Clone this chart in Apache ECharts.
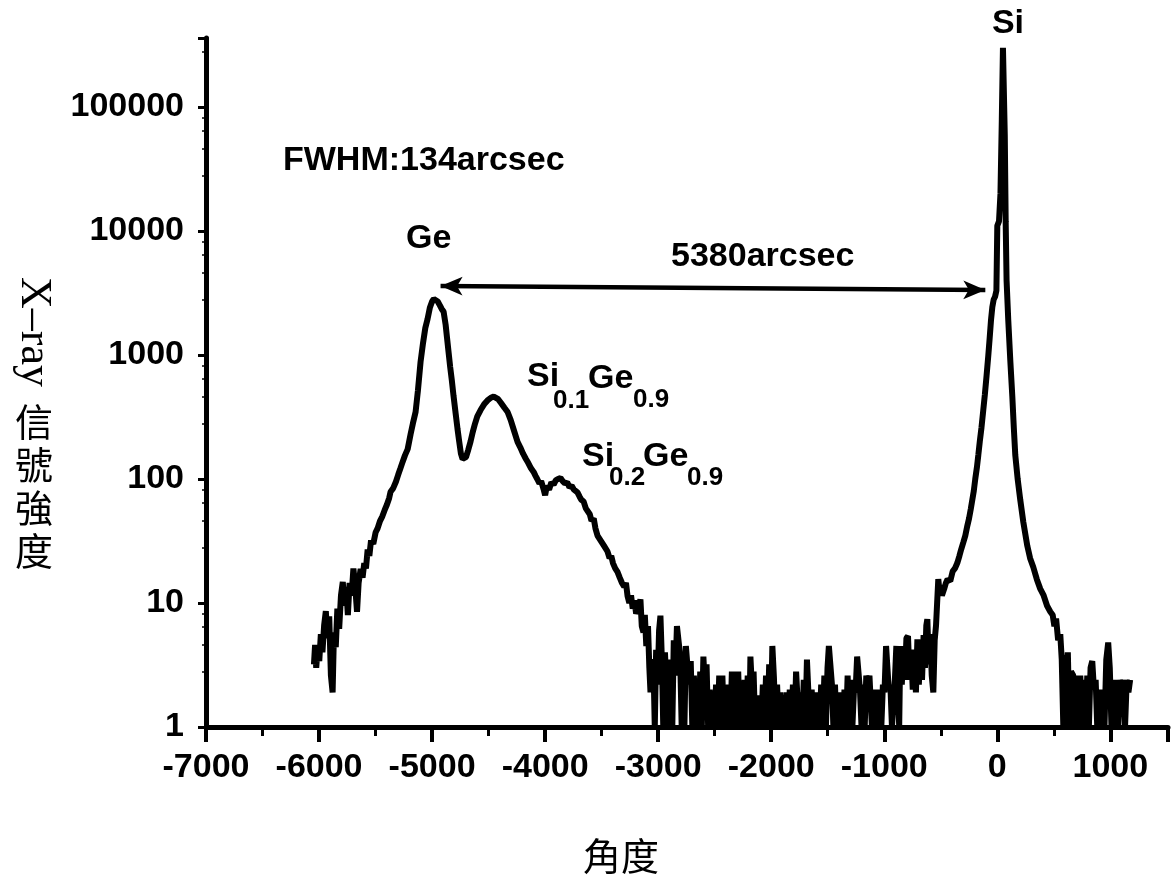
<!DOCTYPE html>
<html>
<head>
<meta charset="utf-8">
<script src="https://cdn.jsdelivr.net/npm/echarts@6/dist/echarts.min.js"></script>
<style>
html,body{margin:0;padding:0;background:#fff}
#chart{width:1171px;height:883px}
</style>
</head>
<body>
<div id="chart"></div>
<script>
// angle (arcsec) and X-ray counts
var angle = [
  -6045,-6035,-6025,-6012,-5998,-5984,-5970,-5955,-5940,-5925,-5910,-5895,-5880,-5868,-5852,-5838,-5822,-5806,-5790,-5775,
  -5760,-5745,-5730,-5712,-5696,-5680,-5664,-5650,-5632,-5615,-5600,-5585,-5570,-5555,-5540,-5520,-5500,-5482,-5460,-5440,
  -5420,-5400,-5380,-5367,-5345,-5320,-5300,-5280,-5260,-5240,-5216,-5190,-5170,-5146,-5125,-5102,-5080,-5060,-5040,-5020,
  -5000,-4985,-4969,-4950,-4930,-4915,-4898,-4880,-4868,-4854,-4840,-4825,-4810,-4792,-4775,-4760,-4745,-4730,-4715,-4700,
  -4680,-4660,-4640,-4620,-4600,-4571,-4540,-4510,-4480,-4455,-4438,-4415,-4390,-4360,-4332,-4305,-4275,-4244,-4220,-4195,
  -4170,-4150,-4125,-4102,-4085,-4070,-4050,-4035,-4014,-4000,-3985,-3965,-3945,-3925,-3905,-3885,-3864,-3845,-3825,-3805,
  -3785,-3765,-3745,-3714,-3695,-3680,-3660,-3640,-3625,-3605,-3590,-3570,-3555,-3537,-3520,-3500,-3480,-3465,-3448,-3430,
  -3415,-3400,-3380,-3360,-3340,-3320,-3300,-3285,-3271,-3255,-3240,-3225,-3210,-3195,-3183,-3170,-3157,-3145,-3130,-3118,
  -3105,-3090,-3078,-3068,-3055,-3042,-3030,-3018,-3005,-2992,-2980,-2966,-2955,-2940,-2926,-2912,-2900,-2888,-2875,-2862,
  -2848,-2834,-2820,-2806,-2792,-2780,-2768,-2755,-2741,-2728,-2712,-2698,-2684,-2670,-2656,-2642,-2628,-2614,-2600,-2586,
  -2572,-2558,-2544,-2530,-2516,-2502,-2488,-2474,-2460,-2446,-2432,-2418,-2404,-2390,-2376,-2362,-2348,-2334,-2320,-2306,
  -2292,-2278,-2264,-2250,-2236,-2222,-2208,-2194,-2184,-2170,-2156,-2142,-2128,-2116,-2102,-2088,-2074,-2060,-2046,-2032,
  -2018,-2004,-1990,-1976,-1962,-1948,-1934,-1920,-1906,-1892,-1878,-1864,-1850,-1836,-1822,-1808,-1794,-1780,-1768,-1754,
  -1740,-1726,-1712,-1698,-1684,-1670,-1656,-1642,-1628,-1614,-1600,-1586,-1572,-1558,-1544,-1530,-1516,-1502,-1490,-1477,
  -1463,-1450,-1436,-1422,-1408,-1394,-1380,-1366,-1352,-1338,-1324,-1310,-1296,-1282,-1268,-1254,-1240,-1229,-1215,-1201,
  -1187,-1173,-1159,-1145,-1131,-1123,-1109,-1095,-1081,-1067,-1053,-1040,-1026,-1012,-998,-984,-973,-960,-946,-932,
  -920,-906,-893,-880,-868,-858,-845,-832,-818,-804,-790,-776,-762,-748,-734,-720,-707,-694,-680,-666,
  -652,-640,-628,-619,-606,-594,-580,-566,-554,-542,-530,-522,-510,-504,-490,-470,-455,-440,-416,-395,
  -375,-354,-335,-320,-300,-283,-265,-250,-235,-221,-208,-195,-180,-168,-155,-140,-124,-110,-95,-80,
  -68,-56,-44,-32,-20,-8,0,15,28,40,50,58,66,74,82,97,115,133,146,159,
  180,203,230,265,290,318,350,380,410,440,469,490,505,520,538,557,570,584,596,610,
  624,638,652,672,688,702,718,734,750,765,780,796,810,825,840,855,870,884,900,915,
  930,948,964,981,995,1010,1025,1040,1055,1070,1085,1100,1115,1130,1145,1160,1175
];
var intensity = [
  3.2,4.6,3.0,4.4,3.4,5.6,4.0,6.6,8.6,5.2,7.8,2.6,1.9,5.8,4.4,9.0,6.2,11.5,14.8,9.5,
  13.5,8.0,14.5,11.5,19,13.5,8.5,14.5,18.8,16,21,19,27,24,32,30,37,40,46,50,
  56,62,70,79,84,95,108,122,138,155,174,230,280,347,520,880,1250,1650,1950,2400,
  2700,2830,2850,2700,2500,2350,2230,1750,1380,1050,800,620,465,340,253,200,160,145,142,150,
  172,200,240,280,320,360,400,430,452,462,460,440,410,375,347,300,245,199,180,160,
  145,135,122,114,106,100,92,96,83,74,88,82,94,90,98,100,102,96,92,94,
  86,88,82,78,72,68,66,58,57,52,46,48,40,35,36,31,29,30,26,23,
  24,21,19,17.8,16,14.5,13.5,14.5,11.4,10,11.5,9,10.5,8.2,8.5,9.5,10.7,6.5,5.8,8,
  4.5,6.5,3.0,1.9,3.5,3.3,1,4.2,2.2,6.0,7.9,3.2,1,4.0,2.0,1,1,3.5,1,5.0,
  2.6,6.5,6.5,3.8,1,3.0,1,4.5,4.5,2.2,3.4,1,2.6,1,2.2,1,2.8,1,3.7,2.0,
  3.2,1,2.0,1,1.8,1,2.2,1,2.6,1,2.6,1,1.8,1,2.2,1,2.8,1,2.8,1,
  2.8,1,2.0,1,2.4,1,2.6,1,3.7,2.0,2.8,1,1.8,1,1.8,1,2.2,1,2.6,1,
  3.2,1,4.5,2.5,1,2.2,1,1.9,1,1.8,1,1.9,1,2.0,1,2.2,1,2.8,2.8,1,
  1.9,1,2.4,1,3.5,1.8,1,2.0,1,1.9,1,1.9,1,2.2,1,2.6,1,3.0,4.5,4.5,
  2.2,1,2.2,1,1.9,1,1.9,1,2.0,1,2.6,1,2.4,1,2.0,1.9,3.7,3.7,2.0,1,
  2.2,1,2.6,1.9,2.6,2.6,1,2.0,1,2.0,1,1.9,1,2.2,1.9,4.5,4.5,2.0,2.2,1,
  1,2.4,4.5,2.2,1,4.5,2.2,4.0,2.4,5.2,5.4,2.4,4.2,2.0,3.8,1.9,5.1,2.2,4.5,2.4,
  5.5,3.0,6.6,7.4,3.2,5.6,2.6,1.9,5.0,6.6,6.6,15.6,12,14,11.5,13,14.5,15.5,15,18,
  19,21,24,27,31,35,42,48,57,68,80,100,125,156,200,260,360,480,680,980,
  1350,1900,2440,2800,2950,3300,11000,12000,20000,80000,300000,300000,60000,12000,4000,1900,900,460,260,156,
  100,68,45,29,23,19.5,15.5,13,11.5,9.5,8.5,8,6.5,7.5,5,5.6,3.5,1,3.8,2.5,
  4,1,2.8,2.6,1,2.6,1,2.6,1,2.4,1,2.6,1,3.0,3.4,2.0,2.4,1,2.0,1,
  2.0,1,3.5,4.8,3.0,1,2.4,1,2.4,1,2.4,1.8,2.4,1,2.4,1.9,2.4
];
// the 5380 arcsec double arrow between the Ge and Si peaks
var arrowFrom = [-4925, 3600];
var arrowTo = [-106, 3345];

var chart = echarts.init(document.getElementById('chart'));
var sans = 'Liberation Sans, Arial, sans-serif';

function label(text, x, y, size, align) {
	return {
		type: 'text', x: x, y: y, silent: true,
		style: {
			text: text, fill: '#000', fontSize: size, fontWeight: 'bold', fontFamily: sans,
			textAlign: align || 'left', textVerticalAlign: 'middle'
		}
	};
}

chart.setOption({
	animation: false,
	backgroundColor: '#fff',
	grid: {left: 206, right: 3, top: 38, bottom: 156},
	xAxis: {
		type: 'value', min: -7000, max: 1510, interval: 1000,
		axisLine: {onZero: false, lineStyle: {color: '#000', width: 5}},
		axisTick: {length: 15, lineStyle: {color: '#000', width: 4}},
		minorTick: {show: true, splitNumber: 2, length: 9, lineStyle: {color: '#000', width: 3}},
		splitLine: {show: false},
		axisLabel: {
			margin: 24, color: '#000', fontSize: 34, fontWeight: 'bold', fontFamily: sans,
			formatter: function (v) { return v % 1000 === 0 ? String(v) : ''; }
		}
	},
	yAxis: {
		type: 'log', logBase: 10, min: 1, max: 360000,
		axisLine: {show: true, onZero: false, lineStyle: {color: '#000', width: 5}},
		axisTick: {show: true, length: 8, lineStyle: {color: '#000', width: 3}},
		minorTick: {show: true, splitNumber: 5, length: 4, lineStyle: {color: '#000', width: 1.5}},
		splitLine: {show: false},
		axisLabel: {
			margin: 22, color: '#000', fontSize: 34, fontWeight: 'bold', fontFamily: sans,
			formatter: function (v) {
				var l = Math.log10(v);
				return Math.abs(l - Math.round(l)) < 1e-6 ? String(Math.round(v)) : '';
			}
		}
	},
	series: [{
		type: 'line',
		data: angle.map(function (a, i) { return [a, intensity[i]]; }),
		symbol: 'none',
		clip: true,
		lineStyle: {color: '#000', width: 6},
		markLine: {
			silent: true,
			symbol: ['arrow', 'arrow'],
			symbolSize: [14, 22],
			label: {show: false},
			lineStyle: {color: '#000', width: 4.5, type: 'solid'},
			data: [[{coord: arrowFrom}, {coord: arrowTo}]]
		}
	}],
	graphic: [
		label('FWHM:134arcsec', 283, 161, 34),
		label('Ge', 406, 239, 34),
		label('5380arcsec', 671, 257, 34),
		label('Si', 1008, 24, 34, 'center'),
		label('Si', 527, 377, 34),
		label('0.1', 553, 401, 26),
		label('Ge', 588, 379, 34),
		label('0.9', 633, 400, 26),
		label('Si', 582, 457, 34),
		label('0.2', 609, 478, 26),
		label('Ge', 643, 457, 34),
		label('0.9', 687, 478, 26),
		{
			type: 'text', x: 34, y: 332, rotation: -Math.PI / 2, silent: true,
			style: {text: 'X\u2013ray', fill: '#000', fontSize: 44, fontFamily: 'Liberation Serif, serif',
				textAlign: 'center', textVerticalAlign: 'middle'}
		},
		{
			type: 'text', x: 34, y: 400, silent: true,
			style: {text: '信\n號\n強\n度', fill: '#000', fontSize: 38, lineHeight: 43,
				fontFamily: 'Noto Sans CJK TC', textAlign: 'center', textVerticalAlign: 'top'}
		},
		{
			type: 'text', x: 621, y: 856, silent: true,
			style: {text: '角度', fill: '#000', fontSize: 38, fontFamily: 'Noto Sans CJK TC',
				textAlign: 'center', textVerticalAlign: 'middle'}
		}
	]
});
</script>
</body>
</html>
